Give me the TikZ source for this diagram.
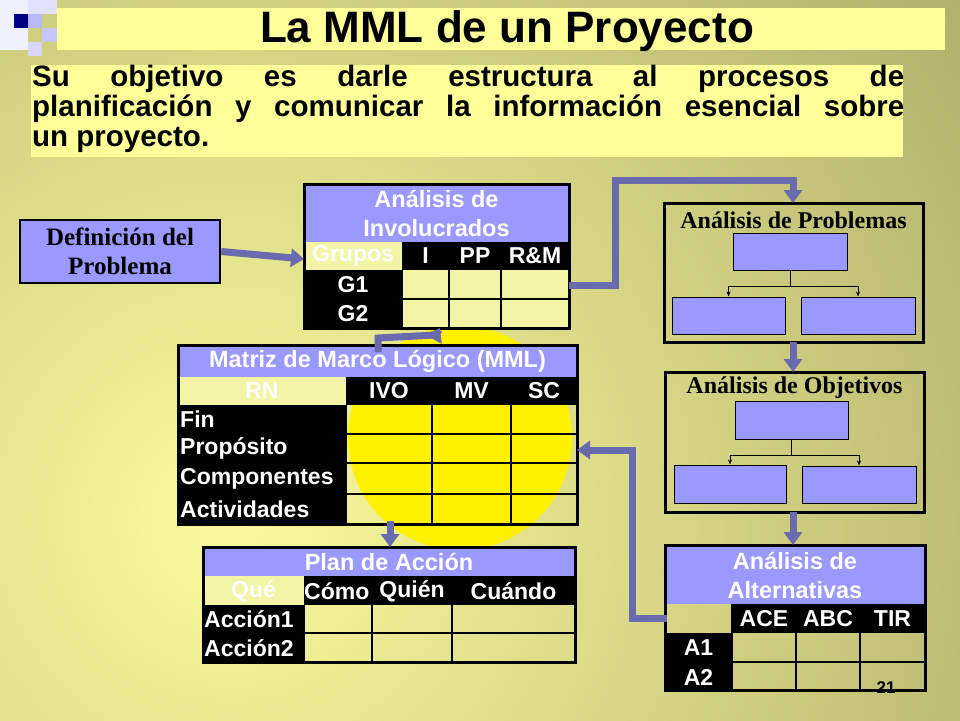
\documentclass[tikz,border=0pt]{standalone}
\usepackage{fontspec}
\setmainfont{Liberation Serif}
\setsansfont{Liberation Sans}
\usetikzlibrary{arrows.meta}
\definecolor{lav}{HTML}{9999FF}
\definecolor{lyel}{HTML}{F4F4A6}
\definecolor{titl}{HTML}{FFFF99}
\definecolor{arw}{HTML}{6A6AAE}
\definecolor{bright}{HTML}{FAFA9C}
\definecolor{olive}{HTML}{85834F}
\definecolor{navy}{HTML}{000080}
\begin{document}
\begin{tikzpicture}[x=1pt,y=-1pt,
  hdr/.style={font=\sffamily\bfseries\fontsize{23.5}{29}\selectfont,text=white,align=center},
  wt/.style={font=\sffamily\bfseries\fontsize{23}{27}\selectfont,text=white,inner sep=0pt},
  sert/.style={font=\rmfamily\bfseries\fontsize{24}{28}\selectfont,align=center},
  big/.style={line width=7pt,draw=arw,-{Triangle[length=13pt,width=18pt]}},
  tline/.style={line width=1.2pt,draw=black},
  frame/.style={line width=3pt,draw=black},
  mini/.style={fill=lav,draw=black,line width=1pt},
  small/.style={line width=1pt,-{Stealth[length=5pt,width=4pt]}}]
\useasboundingbox (0,0) rectangle (960,720);
% background
\fill[olive] (0,0) rectangle (960,720);
\shade[inner color=bright,outer color=olive] (230,520) circle (1450);
% decoration squares
\fill[white!85!lav] (0,0) rectangle (28,50);
\fill[white!70!lav] (28,0) rectangle (57,14);
\fill[lav!70] (28,14) rectangle (42,28);
\fill[lav!55] (42,28) rectangle (57,42);
\fill[white!60!lav] (28,42) rectangle (42,56);
\fill[navy] (14,14) rectangle (28,28);
% title
\fill[titl] (57,8) rectangle (945,50);
\node[font=\sffamily\bfseries\fontsize{44}{48}\selectfont] (title) at (507,31) {La MML de un Proyecto};
\fill[titl] (31,65) rectangle (903,157);
\node[anchor=north west,inner sep=0pt,text width=872pt,font=\sffamily\bfseries\fontsize{29.5}{30}\selectfont,align=justify] (sub) at (32,65)
 {Su objetivo es darle estructura al procesos de\linebreak planificación y comunicar la información esencial sobre\linebreak un proyecto.};
% definicion
\node[draw=black,line width=2.5pt,fill=lav,minimum width=200pt,minimum height=63pt,align=center,inner sep=0pt,font=\rmfamily\bfseries\fontsize{25}{29}\selectfont] (def) at (120,251.5) {Definición del\\Problema};
% yellow circle
\fill[yellow] (460,438) circle (112);
% Involucrados
\fill[black] (304,184) rectangle (569,328);
\fill[lav] (304,184) rectangle (569,242);
\fill[lyel] (304,242) rectangle (402,270);
\fill[lyel] (402,270) rectangle (569,328);
\draw[tline] (402,270)--(402,328) (449,270)--(449,328) (501,270)--(501,328) (402,299)--(569,299);
\draw[frame] (304,184) rectangle (569,328);
\node[hdr] (inv) at (436.5,213) {Análisis de\\Involucrados};
\node[wt] at (353,256) {Grupos};
\node[wt] at (425.5,256) {I};
\node[wt] at (475,256) {PP};
\node[wt] at (535,256) {R\&M};
\node[wt] at (353,285) {G1};
\node[wt] at (353,314) {G2};
\coordinate (invR) at (569,285);
\coordinate (invB) at (440,328);
% MML
\fill[black] (178,377) rectangle (577,405);
\fill[black] (178,405) rectangle (346,524);
\fill[lav] (178,345) rectangle (577,377);
\fill[lyel] (178,377) rectangle (346,405);
\draw[tline] (346,405)--(346,524) (432,405)--(432,524) (511,405)--(511,524)
  (346,434)--(577,434) (346,463)--(577,463) (346,494)--(577,494);
\draw[frame] (178,345) rectangle (577,524);
\node[hdr] (mml) at (377.5,361) {Matriz de Marco Lógico (MML)};
\node[wt] at (262,391) {RN};
\node[wt] at (389,391) {IVO};
\node[wt] at (471.5,391) {MV};
\node[wt] at (544,391) {SC};
\node[wt,anchor=west] at (180,419.5) {Fin};
\node[wt,anchor=west] at (180,448.5) {Propósito};
\node[wt,anchor=west] at (180,478.5) {Componentes};
\node[wt,anchor=west] at (180,509) {Actividades};
\coordinate (mmlT) at (378,352);
\coordinate (mmlB) at (390,521);
\coordinate (mmlR) at (577,450);
% Plan
\fill[black] (203,576) rectangle (575,605);
\fill[black] (203,605) rectangle (304,662);
\fill[lav] (203,547) rectangle (575,576);
\fill[lyel] (203,576) rectangle (304,605);
\draw[tline] (304,605)--(304,662) (372,605)--(372,662) (452,605)--(452,662) (304,633)--(575,633);
\draw[frame] (203,547) rectangle (575,662);
\node[hdr] (plan) at (389,562) {Plan de Acción};
\node[wt] at (253.5,591) {Qué};
\node[wt,anchor=west] at (304,591) {Cómo};
\node[wt] at (412,591) {Quién};
\node[wt] at (513.5,591) {Cuándo};
\node[wt,anchor=west] at (204,619) {Acción1};
\node[wt,anchor=west] at (204,648) {Acción2};
\coordinate (planT) at (390,547);
% Problemas
\draw[frame] (664,203) rectangle (923,342);
\node[sert] (prob) at (793.5,220) {Análisis de Problemas};
\node[mini,minimum width=114pt,minimum height=37pt] (p0) at (790,251.5) {};
\node[mini,minimum width=113pt,minimum height=37pt] (p1) at (728.5,315.5) {};
\node[mini,minimum width=114pt,minimum height=37pt] (p2) at (858,315.5) {};
\draw (p0.south)--(790,286);
\draw[small] (790,286) -| (p1.north);
\draw[small] (790,286) -| (p2.north);
\coordinate (probT) at (793,203);
\coordinate (probB) at (793,342);
% Objetivos
\draw[frame] (665,372) rectangle (924,512);
\node[sert] (obj) at (794.5,388) {Análisis de Objetivos};
\node[mini,minimum width=113pt,minimum height=38pt] (o0) at (791.5,420) {};
\node[mini,minimum width=112pt,minimum height=38pt] (o1) at (730,484) {};
\node[mini,minimum width=114pt,minimum height=37pt] (o2) at (859,484.5) {};
\draw (o0.south)--(791.5,455);
\draw[small] (791.5,455) -| (o1.north);
\draw[small] (791.5,455) -| (o2.north);
\coordinate (objT) at (793,372);
\coordinate (objB) at (793,512);
% Alternativas
\fill[black] (732,604) rectangle (925,633);
\fill[black] (665,633) rectangle (732,690);
\fill[lav] (665,545) rectangle (925,604);
\draw[tline] (732,604)--(732,690) (796,633)--(796,690) (860,633)--(860,690) (732,662)--(925,662);
\draw[frame] (665,545) rectangle (925,690);
\node[hdr] (alt) at (795,575) {Análisis de\\Alternativas};
\node[wt] at (764,619) {ACE};
\node[wt] at (828,619) {ABC};
\node[wt] at (892.5,619) {TIR};
\node[wt] at (698.5,648) {A1};
\node[wt] at (698.5,677) {A2};
\node[font=\sffamily\bfseries\fontsize{17}{19}\selectfont] (num) at (886,688) {21};
\coordinate (altT) at (793,545);
\coordinate (altL) at (667,618);
% arrows
\draw[big] (def.east) -- (304,259);
\draw[big] (invR) -- (615,285) -- (615,180) -- (793,180) -- (probT);
\draw[big] (probB) -- (objT);
\draw[big] (objB) -- (altT);
\draw[big] (altL) -- (632,618) -- (632,450) -- (mmlR);
\draw[big] (mmlT) -- (378,338) -- (436,335) -- (invB);
\draw[big] (mmlB) -- (planT);
\end{tikzpicture}
\end{document}
